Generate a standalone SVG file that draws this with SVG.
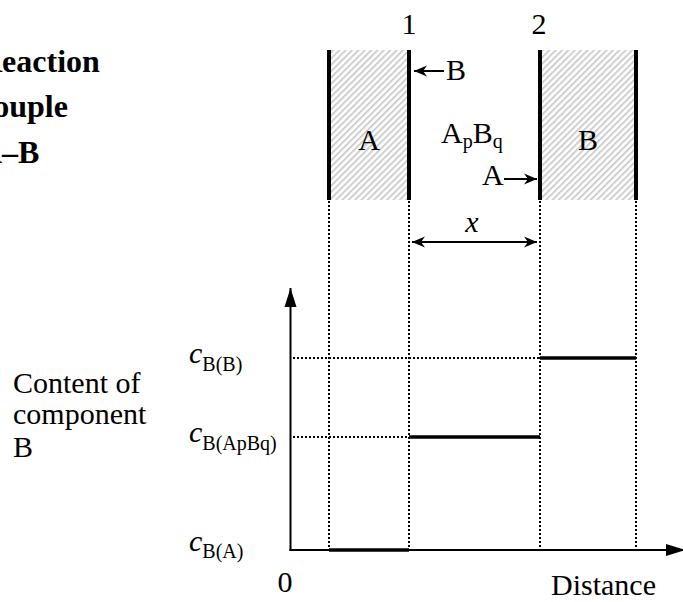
<svg xmlns="http://www.w3.org/2000/svg" width="683" height="602" viewBox="0 0 683 602">
<style>
.t{font-family:"Liberation Serif","Times New Roman",serif;font-size:30px;fill:#000}
.b{font-weight:bold;font-size:32px}
.s{font-size:20px}
.i{font-style:italic}
.wall{stroke:#000;stroke-width:4;fill:none}
.dot{stroke:#000;stroke-width:2;stroke-dasharray:2 2;fill:none}
.ax{stroke:#000;stroke-width:2;fill:none}
.lev{stroke:#000;stroke-width:3.5;fill:none}
.arr{stroke:#000;stroke-width:2;fill:none}
</style>
<defs>
<pattern id="hatch" width="4.5" height="4.5" patternUnits="userSpaceOnUse" patternTransform="rotate(45)">
<rect width="2" height="4.5" fill="#cfcfcf"/>
</pattern>
<marker id="barb" viewBox="-13 -6 14 12" markerWidth="14" markerHeight="12" refX="0" refY="0" orient="auto-start-reverse" markerUnits="userSpaceOnUse">
<path d="M0,0 L-13,-5.5 L-9,0 L-13,5.5 Z" fill="#000"/>
</marker>
<marker id="tri" viewBox="-19 -7 20 14" markerWidth="20" markerHeight="14" refX="0" refY="0" orient="auto" markerUnits="userSpaceOnUse">
<path d="M0,0 L-19,-6 L-19,6 Z" fill="#000"/>
</marker>
</defs>

<g id="title">
<text class="t b" x="-21" y="72">Reaction</text>
<text class="t b" x="-21" y="117">couple</text>
<text class="t b" x="-21" y="163">A–B</text>
</g>

<g id="phase-A">
<rect x="329" y="50" width="80" height="150" fill="url(#hatch)"/>
<text class="t" x="369" y="150" text-anchor="middle">A</text>
</g>
<g id="phase-ApBq">
<text class="t" x="441" y="143">A<tspan class="s" dy="5">p</tspan><tspan dy="-5">B</tspan><tspan class="s" dy="5">q</tspan></text>
</g>
<g id="phase-B">
<rect x="540" y="50" width="96" height="150" fill="url(#hatch)"/>
<text class="t" x="588" y="150" text-anchor="middle">B</text>
</g>

<g id="walls">
<line class="wall" x1="329" y1="50" x2="329" y2="200"/>
<line class="wall" x1="409" y1="50" x2="409" y2="200"/>
<line class="wall" x1="540" y1="50" x2="540" y2="200"/>
<line class="wall" x1="636" y1="50" x2="636" y2="200"/>
</g>

<g id="interface-1">
<text class="t" x="409" y="34" text-anchor="middle">1</text>
<text class="t" x="446" y="80">B</text>
</g>
<g id="interface-2">
<text class="t" x="539" y="34" text-anchor="middle">2</text>
<text class="t" x="482" y="185">A</text>
</g>

<g id="connectors">
<line class="arr" x1="444" y1="71" x2="414" y2="71" marker-end="url(#barb)"/>
<line class="arr" x1="504" y1="179" x2="537" y2="179" marker-end="url(#barb)"/>
<line class="arr" x1="412" y1="242" x2="537" y2="242" marker-start="url(#barb)" marker-end="url(#barb)"/>
<line class="dot" x1="329" y1="201" x2="329" y2="549"/>
<line class="dot" x1="409" y1="201" x2="409" y2="549"/>
<line class="dot" x1="540" y1="201" x2="540" y2="549"/>
<line class="dot" x1="636" y1="201" x2="636" y2="549"/>
<line class="dot" x1="293" y1="358" x2="540" y2="358"/>
<line class="dot" x1="293" y1="437" x2="409" y2="437"/>
<line class="ax" x1="290.5" y1="551" x2="290.5" y2="288" marker-end="url(#tri)"/>
<line class="ax" x1="289.5" y1="550" x2="685" y2="550" marker-end="url(#tri)"/>
<line class="lev" x1="329" y1="550" x2="409" y2="550"/>
<line class="lev" x1="409" y1="437" x2="540" y2="437"/>
<line class="lev" x1="540" y1="358" x2="636" y2="358"/>
</g>

<g id="dimension-x">
<text class="t i" x="472" y="232" text-anchor="middle">x</text>
</g>

<g id="axis-labels">
<text class="t" x="13" y="393">Content of</text>
<text class="t" x="13" y="424">component</text>
<text class="t" x="13" y="457">B</text>
<text class="t i" x="189" y="363">c<tspan class="s" dy="8" font-style="normal">B(B)</tspan></text>
<text class="t i" x="189" y="442">c<tspan class="s" dy="8" font-style="normal">B(ApBq)</tspan></text>
<text class="t i" x="189" y="551">c<tspan class="s" dy="7" font-style="normal">B(A)</tspan></text>
<text class="t" x="285" y="592" text-anchor="middle">0</text>
<text class="t" x="551" y="595">Distance</text>
</g>
</svg>
